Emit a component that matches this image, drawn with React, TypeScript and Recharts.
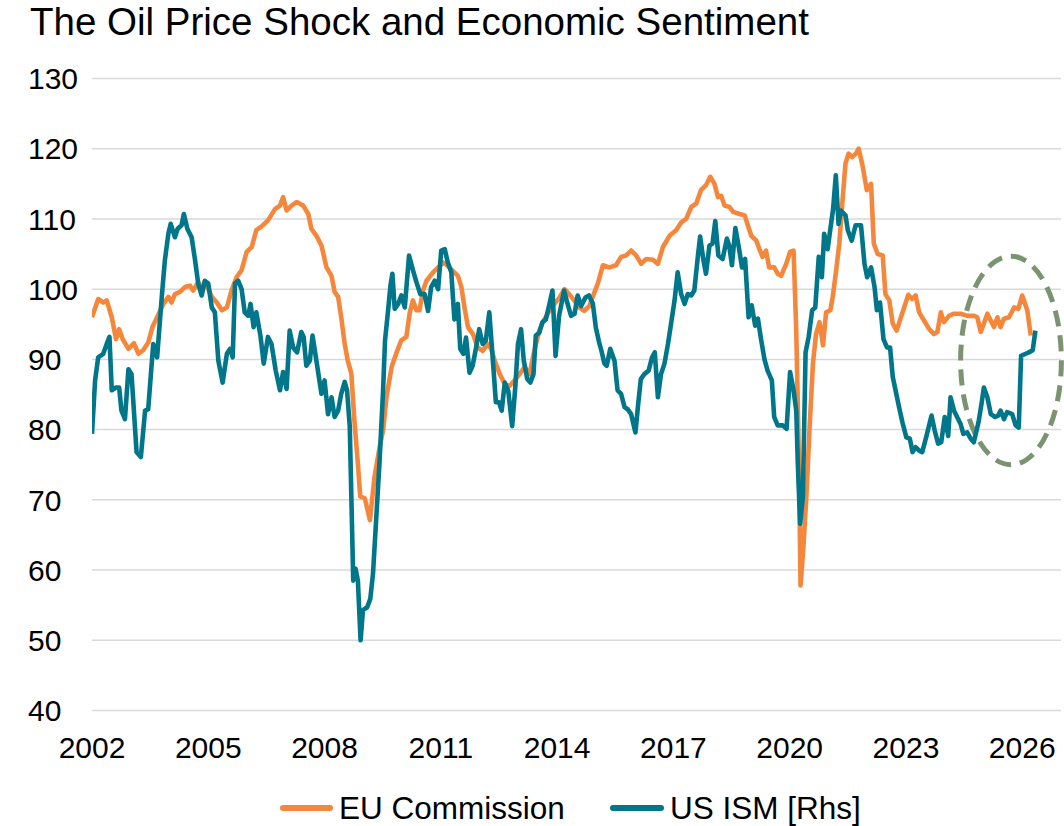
import React from 'react';
import { LineChart, Line, XAxis, YAxis, CartesianGrid, Legend, ReferenceArea } from 'recharts';

// ---- Data (decimal year) ----
const euDates = [
  2002.00, 2002.16, 2002.29, 2002.38, 2002.51, 2002.62, 2002.70, 2002.79, 2002.94, 2003.08,
  2003.20, 2003.32, 2003.45, 2003.56, 2003.68, 2003.84, 2003.97, 2004.05, 2004.14, 2004.27,
  2004.40, 2004.53, 2004.61, 2004.74, 2004.83, 2004.96, 2005.09, 2005.22, 2005.35, 2005.48,
  2005.60, 2005.73, 2005.86, 2005.99, 2006.12, 2006.24, 2006.37, 2006.54, 2006.72, 2006.85,
  2006.93, 2007.02, 2007.15, 2007.28, 2007.45, 2007.58, 2007.66, 2007.79, 2007.92, 2008.05,
  2008.18, 2008.26, 2008.35, 2008.43, 2008.52, 2008.60, 2008.69, 2008.77, 2008.86, 2008.92,
  2009.04, 2009.17, 2009.29, 2009.42, 2009.51, 2009.60, 2009.73, 2009.86, 2009.98, 2010.11,
  2010.20, 2010.28, 2010.37, 2010.45, 2010.54, 2010.63, 2010.80, 2010.93, 2011.06, 2011.18,
  2011.31, 2011.44, 2011.53, 2011.61, 2011.70, 2011.83, 2011.95, 2012.08, 2012.21, 2012.30,
  2012.39, 2012.52, 2012.65, 2012.77, 2012.90, 2013.03, 2013.16, 2013.29, 2013.41, 2013.54,
  2013.67, 2013.80, 2013.93, 2014.06, 2014.19, 2014.31, 2014.44, 2014.57, 2014.70, 2014.83,
  2014.96, 2015.05, 2015.18, 2015.35, 2015.52, 2015.65, 2015.78, 2015.91, 2016.04, 2016.17,
  2016.30, 2016.47, 2016.60, 2016.73, 2016.90, 2017.07, 2017.20, 2017.33, 2017.46, 2017.59,
  2017.71, 2017.84, 2017.95, 2018.06, 2018.15, 2018.23, 2018.32, 2018.45, 2018.54, 2018.71,
  2018.84, 2018.92, 2019.01, 2019.14, 2019.22, 2019.30, 2019.39, 2019.47, 2019.60, 2019.69,
  2019.78, 2019.91, 2020.01, 2020.10, 2020.17, 2020.24, 2020.28, 2020.35, 2020.43, 2020.51,
  2020.60, 2020.68, 2020.77, 2020.86, 2020.94, 2021.05, 2021.11, 2021.20, 2021.28, 2021.37,
  2021.44, 2021.52, 2021.61, 2021.71, 2021.78, 2021.88, 2021.99, 2022.10, 2022.17, 2022.27,
  2022.40, 2022.47, 2022.57, 2022.66, 2022.76, 2022.87, 2022.96, 2023.06, 2023.16, 2023.25,
  2023.34, 2023.47, 2023.60, 2023.72, 2023.81, 2023.90, 2023.98, 2024.11, 2024.24, 2024.41,
  2024.59, 2024.76, 2024.84, 2024.93, 2025.01, 2025.10, 2025.19, 2025.27, 2025.36, 2025.44,
  2025.53, 2025.66, 2025.79, 2025.90, 2026.00, 2026.13, 2026.22,
];
const euValues = [
  96.0, 98.6, 98.1, 98.4, 96.0, 92.9, 94.3, 92.9, 91.5, 92.3,
  90.8, 91.3, 92.4, 94.6, 96.0, 97.9, 98.9, 98.1, 99.3, 99.6,
  100.3, 100.5, 99.8, 101.0, 100.3, 100.5, 98.9, 98.1, 97.0, 97.4,
  99.8, 101.7, 102.7, 105.3, 106.0, 108.4, 108.9, 109.8, 111.4, 111.9,
  113.1, 111.2, 111.9, 112.4, 111.9, 110.7, 108.6, 107.6, 106.2, 103.1,
  101.9, 99.6, 98.9, 96.0, 92.2, 89.8, 88.0, 81.3, 75.1, 70.5,
  70.2, 67.1, 73.3, 77.5, 79.9, 84.7, 88.9, 91.0, 92.7, 93.2,
  96.7, 98.4, 97.0, 97.0, 99.8, 101.2, 102.4, 103.1, 103.8, 103.3,
  102.6, 101.9, 100.3, 97.4, 94.6, 93.6, 91.7, 91.2, 92.2, 91.5,
  89.8, 87.9, 86.5, 86.2, 87.0, 87.9, 88.9, 87.9, 91.2, 94.1,
  95.7, 96.9, 97.9, 98.8, 100.0, 99.3, 98.4, 97.4, 96.9, 97.6,
  99.5, 100.8, 103.4, 103.1, 103.4, 104.6, 104.8, 105.5, 104.8, 103.6,
  104.3, 104.2, 103.6, 106.0, 107.6, 108.4, 109.5, 110.0, 111.7, 112.2,
  114.1, 114.8, 116.0, 115.0, 113.1, 113.3, 111.9, 111.7, 111.0, 110.7,
  110.5, 109.1, 107.6, 106.9, 105.7, 104.6, 105.5, 103.1, 103.1, 102.2,
  101.9, 103.6, 105.3, 105.5, 94.1, 75.1, 57.8, 63.0, 70.4, 79.9,
  89.4, 93.6, 95.3, 92.0, 96.7, 97.0, 98.9, 102.7, 106.5, 113.1,
  117.9, 119.3, 118.8, 119.3, 120.0, 117.6, 114.1, 115.0, 106.5, 105.0,
  104.8, 99.3, 98.4, 95.1, 94.1, 96.0, 97.5, 99.2, 98.6, 99.1,
  96.7, 95.5, 94.3, 93.6, 93.9, 96.7, 95.3, 96.2, 96.5, 96.5,
  96.2, 96.2, 96.0, 93.9, 95.1, 96.5, 95.5, 94.6, 96.0, 94.6,
  95.8, 96.0, 97.4, 97.2, 99.1, 97.0, 93.4,
];

const ismDates = [
  2002.00, 2002.08, 2002.16, 2002.29, 2002.38, 2002.45, 2002.51, 2002.62, 2002.70, 2002.76,
  2002.85, 2002.94, 2003.02, 2003.15, 2003.26, 2003.37, 2003.45, 2003.58, 2003.68, 2003.80,
  2003.88, 2003.97, 2004.03, 2004.14, 2004.21, 2004.31, 2004.37, 2004.46, 2004.57, 2004.66,
  2004.74, 2004.83, 2004.91, 2005.00, 2005.09, 2005.17, 2005.26, 2005.37, 2005.48, 2005.56,
  2005.63, 2005.69, 2005.77, 2005.86, 2005.94, 2006.03, 2006.09, 2006.17, 2006.24, 2006.35,
  2006.43, 2006.54, 2006.63, 2006.74, 2006.85, 2006.93, 2007.02, 2007.10, 2007.19, 2007.29,
  2007.40, 2007.46, 2007.53, 2007.62, 2007.69, 2007.79, 2007.92, 2008.00, 2008.09, 2008.18,
  2008.26, 2008.35, 2008.43, 2008.52, 2008.58, 2008.65, 2008.74, 2008.80, 2008.86, 2008.93,
  2008.99, 2009.10, 2009.18, 2009.25, 2009.34, 2009.42, 2009.51, 2009.56, 2009.64, 2009.70,
  2009.75, 2009.81, 2009.90, 2009.98, 2010.07, 2010.18, 2010.28, 2010.37, 2010.47, 2010.58,
  2010.67, 2010.75, 2010.84, 2010.93, 2011.01, 2011.10, 2011.18, 2011.27, 2011.35, 2011.44,
  2011.50, 2011.58, 2011.65, 2011.74, 2011.82, 2011.91, 2011.99, 2012.08, 2012.16, 2012.25,
  2012.33, 2012.42, 2012.50, 2012.57, 2012.65, 2012.74, 2012.84, 2012.92, 2012.99, 2013.07,
  2013.14, 2013.23, 2013.31, 2013.39, 2013.45, 2013.54, 2013.62, 2013.71, 2013.79, 2013.88,
  2013.96, 2014.05, 2014.18, 2014.26, 2014.36, 2014.45, 2014.53, 2014.62, 2014.73, 2014.82,
  2014.92, 2015.00, 2015.08, 2015.14, 2015.22, 2015.28, 2015.37, 2015.48, 2015.56, 2015.65,
  2015.74, 2015.82, 2015.91, 2016.02, 2016.10, 2016.16, 2016.25, 2016.36, 2016.45, 2016.52,
  2016.60, 2016.68, 2016.77, 2016.86, 2016.94, 2017.03, 2017.11, 2017.20, 2017.29, 2017.37,
  2017.46, 2017.54, 2017.63, 2017.69, 2017.77, 2017.84, 2017.93, 2018.01, 2018.08, 2018.16,
  2018.27, 2018.38, 2018.44, 2018.51, 2018.60, 2018.68, 2018.77, 2018.85, 2018.94, 2019.02,
  2019.11, 2019.18, 2019.26, 2019.35, 2019.43, 2019.54, 2019.60, 2019.69, 2019.82, 2019.92,
  2020.01, 2020.10, 2020.17, 2020.21, 2020.27, 2020.34, 2020.41, 2020.49, 2020.58, 2020.66,
  2020.75, 2020.83, 2020.89, 2020.98, 2021.05, 2021.12, 2021.19, 2021.26, 2021.32, 2021.44,
  2021.50, 2021.60, 2021.70, 2021.84, 2021.93, 2022.00, 2022.10, 2022.19, 2022.25, 2022.33,
  2022.42, 2022.51, 2022.59, 2022.66, 2022.75, 2022.83, 2022.91, 2023.01, 2023.10, 2023.17,
  2023.25, 2023.34, 2023.42, 2023.52, 2023.66, 2023.74, 2023.83, 2023.91, 2024.00, 2024.09,
  2024.15, 2024.24, 2024.32, 2024.41, 2024.48, 2024.58, 2024.67, 2024.75, 2024.87, 2024.95,
  2025.01, 2025.10, 2025.19, 2025.30, 2025.38, 2025.44, 2025.53, 2025.61, 2025.74, 2025.83,
  2025.91, 2025.97, 2026.09, 2026.17, 2026.27, 2026.34,
];
const ismValues = [
  79.4, 87.0, 90.3, 90.8, 92.2, 93.2, 85.6, 86.0, 86.0, 82.7,
  81.5, 88.6, 87.9, 76.8, 76.1, 82.7, 82.9, 92.2, 90.3, 98.9,
  104.1, 107.9, 109.3, 107.4, 108.6, 109.1, 110.7, 108.6, 107.4, 104.1,
  100.8, 99.1, 101.2, 100.8, 97.4, 96.7, 89.8, 86.7, 90.8, 91.5,
  90.3, 100.8, 101.2, 100.0, 96.7, 96.2, 97.9, 94.6, 96.7, 93.2,
  89.4, 93.2, 92.2, 88.4, 85.6, 88.2, 85.8, 94.1, 91.7, 91.0,
  93.9, 93.2, 89.1, 89.8, 93.4, 89.8, 85.1, 87.0, 82.2, 84.6,
  81.8, 82.7, 85.1, 86.8, 85.6, 80.5, 58.5, 60.2, 58.5, 50.0,
  54.3, 54.7, 55.9, 59.5, 68.0, 75.6, 85.6, 92.7, 97.0, 100.5,
  102.2, 97.2, 97.9, 99.1, 97.4, 104.8, 102.7, 101.0, 99.3, 99.3,
  96.9, 100.3, 101.2, 100.0, 105.5, 105.7, 103.8, 102.4, 95.7, 97.9,
  91.5, 90.8, 93.1, 88.1, 89.1, 91.7, 94.3, 92.2, 92.7, 96.7,
  90.8, 83.9, 83.9, 82.7, 86.7, 85.5, 80.5, 86.0, 92.2, 94.3,
  89.8, 87.2, 86.7, 87.9, 93.4, 93.8, 95.3, 95.7, 97.6, 99.8,
  90.5, 96.2, 99.8, 98.1, 96.2, 96.5, 99.1, 97.6, 98.8, 99.1,
  98.0, 94.5, 92.5, 91.3, 89.4, 89.1, 91.5, 89.8, 85.6, 85.1,
  83.2, 82.9, 82.2, 79.6, 84.1, 87.2, 87.9, 88.4, 90.3, 91.0,
  84.6, 87.9, 89.4, 92.2, 95.1, 98.4, 102.4, 99.3, 97.9, 99.3,
  99.1, 99.8, 104.6, 107.5, 104.3, 102.2, 106.2, 106.5, 109.7, 104.8,
  104.3, 107.2, 106.2, 103.4, 108.7, 106.2, 103.1, 104.3, 96.0, 97.7,
  94.8, 95.8, 92.9, 90.0, 88.4, 87.0, 81.8, 80.6, 80.6, 80.1,
  88.2, 85.6, 82.7, 75.1, 66.6, 70.4, 91.0, 93.2, 97.0, 97.4,
  104.6, 101.7, 107.9, 105.7, 108.6, 111.4, 116.2, 109.3, 111.2, 110.5,
  108.4, 106.9, 109.1, 109.1, 103.6, 101.7, 103.1, 100.3, 97.0, 98.1,
  92.9, 91.7, 91.7, 87.5, 85.1, 83.0, 81.0, 78.9, 78.7, 76.8,
  77.5, 77.0, 76.8, 78.9, 82.0, 79.9, 78.0, 78.2, 81.8, 79.1,
  84.6, 82.7, 81.8, 80.8, 79.4, 79.6, 78.7, 78.2, 81.0, 83.7,
  86.0, 84.6, 82.2, 81.8, 82.0, 82.7, 81.5, 82.5, 82.2, 80.6,
  80.3, 90.5, 90.8, 91.0, 91.3, 94.1,
];

const xTicks = [2002, 2005, 2008, 2011, 2014, 2017, 2020, 2023, 2026];
const yTicks = [40, 50, 60, 70, 80, 90, 100, 110, 120, 130];
const seriesNames = ['EU Commission', 'US ISM [Rhs]'];
const titleText = 'The Oil Price Shock and Economic Sentiment';

// highlight ellipse (in data units)
const ellipseX = [2024.41, 2027.01];
const ellipseY = [75.0, 104.7];

const euData = euDates.map((t, i) => ({ t, eu: euValues[i] }));
const ismData = ismDates.map((t, i) => ({ t, ism: ismValues[i] }));

const ORANGE = '#F5873C';
const TEAL = '#00768A';
const FONT = '"Liberation Sans", Arial, sans-serif';

const YTick = (props: any) => {
  const { y, payload } = props;
  return (
    <text x={28} y={y + 10.7} textAnchor="start" fontFamily={FONT} fontSize={30} fill="#000">
      {payload.value}
    </text>
  );
};

const XTick = (props: any) => {
  const { x, payload } = props;
  return (
    <text x={x} y={758} textAnchor="middle" fontFamily={FONT} fontSize={30} fill="#000">
      {payload.value}
    </text>
  );
};

const LegendContent = () => (
  <div style={{ position: 'relative', height: 40, fontFamily: FONT, fontSize: 31.5, color: '#000' }}>
    <div style={{ position: 'absolute', left: 280, top: 19, width: 53, height: 5.5, borderRadius: 3, background: ORANGE }} />
    <div style={{ position: 'absolute', left: 339, top: 4, lineHeight: '36px', whiteSpace: 'nowrap' }}>{seriesNames[0]}</div>
    <div style={{ position: 'absolute', left: 610, top: 19, width: 54, height: 5.5, borderRadius: 3, background: TEAL }} />
    <div style={{ position: 'absolute', left: 670, top: 4, lineHeight: '36px', whiteSpace: 'nowrap' }}>{seriesNames[1]}</div>
  </div>
);

const EllipseShape = (props: any) => {
  const { x, y, width, height } = props;
  return (
    <ellipse
      cx={x + width / 2}
      cy={y + height / 2}
      rx={Math.abs(width) / 2}
      ry={Math.abs(height) / 2}
      fill="none"
      stroke="#7A9472"
      strokeWidth={5}
      strokeDasharray="16 9"
    />
  );
};

export default function App() {
  return (
    <div style={{ position: 'absolute', left: 0, top: 0, width: 1064, height: 826, background: '#fff', overflow: 'hidden' }}>
      <div
        style={{
          position: 'absolute', left: 30, top: 3, fontFamily: FONT, fontSize: 38.5, lineHeight: '38px',
          color: '#000', whiteSpace: 'nowrap',
        }}
      >
        {titleText}
      </div>
      <LineChart width={1064} height={826} margin={{ top: 78.5, right: 3, bottom: 0, left: 0 }}>
        <CartesianGrid yAxisId="left" vertical={false} stroke="#D9D9D9" strokeWidth={1.5} />
        <XAxis
          type="number"
          dataKey="t"
          domain={[2002, 2027]}
          ticks={xTicks}
          interval={0}
          allowDataOverflow
          axisLine={false}
          tickLine={false}
          height={75.5}
          tick={<XTick />}
        />
        <YAxis
          yAxisId="left"
          type="number"
          domain={[40, 130]}
          ticks={yTicks}
          interval={0}
          axisLine={false}
          tickLine={false}
          width={92}
          tick={<YTick />}
        />
        <YAxis yAxisId="right" orientation="right" type="number" domain={[40, 130]} hide />
        <Legend verticalAlign="bottom" content={<LegendContent />} wrapperStyle={{ height: 40, bottom: 0 }} />
        <Line
          yAxisId="left"
          data={euData}
          dataKey="eu"
          name={seriesNames[0]}
          stroke={ORANGE}
          strokeWidth={4.6}
          dot={false}
          strokeLinejoin="round"
          isAnimationActive={false}
        />
        <Line
          yAxisId="right"
          data={ismData}
          dataKey="ism"
          name={seriesNames[1]}
          stroke={TEAL}
          strokeWidth={4.6}
          dot={false}
          strokeLinejoin="round"
          isAnimationActive={false}
        />
        <ReferenceArea
          yAxisId="left"
          x1={ellipseX[0]}
          x2={ellipseX[1]}
          y1={ellipseY[0]}
          y2={ellipseY[1]}
          ifOverflow="visible"
          shape={<EllipseShape />}
        />
      </LineChart>
    </div>
  );
}
